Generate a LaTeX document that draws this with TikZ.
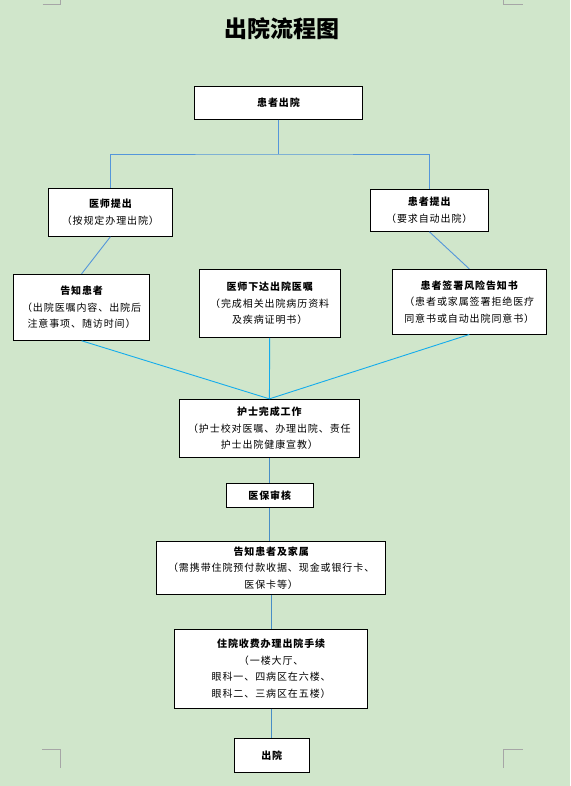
\documentclass[tikz,border=0pt]{standalone}
\usepackage{fontspec}
\newfontfamily\cjk{Noto Sans CJK SC}
\newfontfamily\cjkesp{Noto Sans CJK SC}[LetterSpace=9]
\definecolor{fondo}{RGB}{208,230,203}
\definecolor{lineaA}{RGB}{84,150,218}
\definecolor{lineaB}{RGB}{20,172,236}
\definecolor{lineaC}{RGB}{72,142,198}
\definecolor{marca}{RGB}{166,166,166}
\tikzset{
  caja/.style={draw, fill=white, line width=0.9pt, align=center, inner sep=1pt,
    font=\cjkesp\fontsize{10}{16.5}\selectfont},
  enlace/.style={line width=0.9pt},
}
\begin{document}
\begin{tikzpicture}[x=1pt, y=-1pt]
    % Fondo y marcas de esquina
    \fill[fondo] (0,0) rectangle (570,786);
    \useasboundingbox (0,0) rectangle (570,786);
    \draw[marca, line width=0.8pt] (42.5,4) -- (60,4) -- (60,0);
    \draw[marca, line width=0.8pt] (503.5,0) -- (503.5,4) -- (522.7,4);
    \draw[marca, line width=0.8pt] (42,749.3) -- (60.7,749.3) -- (60.7,767.7);
    \draw[marca, line width=0.8pt] (503.5,767.7) -- (503.5,749.3) -- (522.7,749.3);

    % Titulo
    \node[font=\cjk\bfseries\fontsize{23}{23}\selectfont] (titulo) at (281.7,28.3) {出院流程图};

    % Primer nivel
    \node[caja, minimum width=168pt, minimum height=33pt] (alta) at (278.5,102.8) {\bfseries 患者出院};
    \node[caja, minimum width=123.3pt, minimum height=48pt] (medico) at (110.4,212.3)
        {{\bfseries 医师提出}\\（按规定办理出院）};
    \node[caja, minimum width=117.8pt, minimum height=42pt] (paciente) at (429.3,210.3)
        {{\bfseries 患者提出}\\（要求自动出院）};

    % Segundo nivel
    \node[caja, minimum width=135.6pt, minimum height=66pt] (aviso) at (81.6,307.3)
        {{\bfseries 告知患者}\\（出院医嘱内容、出院后\\注意事项、随访时间）};
    \node[caja, minimum width=141pt, minimum height=68pt] (orden) at (269.7,303.3)
        {{\bfseries 医师下达出院医嘱}\\（完成相关出院病历资料\\及疾病证明书）};
    \node[caja, minimum width=154.1pt, minimum height=64.7pt] (firma) at (469.3,301.7)
        {{\bfseries 患者签署风险告知书}\\（患者或家属签署拒绝医疗\\同意书或自动出院同意书）};

    % Cadena central
    \node[caja, minimum width=179.5pt, minimum height=58pt] (enfermera) at (269.4,428.3)
        {{\bfseries 护士完成工作}\\（护士校对医嘱、办理出院、责任\\护士出院健康宣教）};
    \node[caja, minimum width=87pt, minimum height=23.7pt] (seguro) at (269.8,495.2)
        {\bfseries 医保审核};
    \node[caja, minimum width=229pt, minimum height=53pt] (familia) at (271.2,567.8)
        {{\bfseries 告知患者及家属}\\（需携带住院预付款收据、现金或银行卡、\\医保卡等）};
    \node[caja, minimum width=193pt, minimum height=78.7pt] (cobro) at (271.2,668.7)
        {{\bfseries 住院收费办理出院手续}\\（一楼大厅、\\眼科一、四病区在六楼、\\眼科二、三病区在五楼）};
    \node[caja, minimum width=75pt, minimum height=34pt] (salida) at (271.8,755.3)
        {\bfseries 出院};

    % Conectores
    \coordinate (rama) at (278.5,154);
    \draw[enlace, lineaA] (alta.south) -- (rama);
    \draw[enlace, lineaA] (medico.north) |- (rama) -| (paciente.north);
    \draw[enlace, lineaA] (medico.south) -- (aviso.north);
    \draw[enlace, lineaA] (paciente.south) -- (firma.north);
    \draw[enlace, lineaB] (aviso.south) -- (enfermera.north);
    \draw[enlace, lineaB] (orden.south) -- (enfermera.north);
    \draw[enlace, lineaB] (firma.south) -- (enfermera.north);
    \draw[enlace, lineaC] (enfermera.south) -- (enfermera.south |- seguro.north);
    \draw[enlace, lineaC] (seguro.south) -- (seguro.south |- familia.north);
    \draw[enlace, lineaC] (familia.south) -- (familia.south |- cobro.north);
    \draw[enlace, lineaC] (cobro.south) -- (cobro.south |- salida.north);
\end{tikzpicture}
\end{document}
